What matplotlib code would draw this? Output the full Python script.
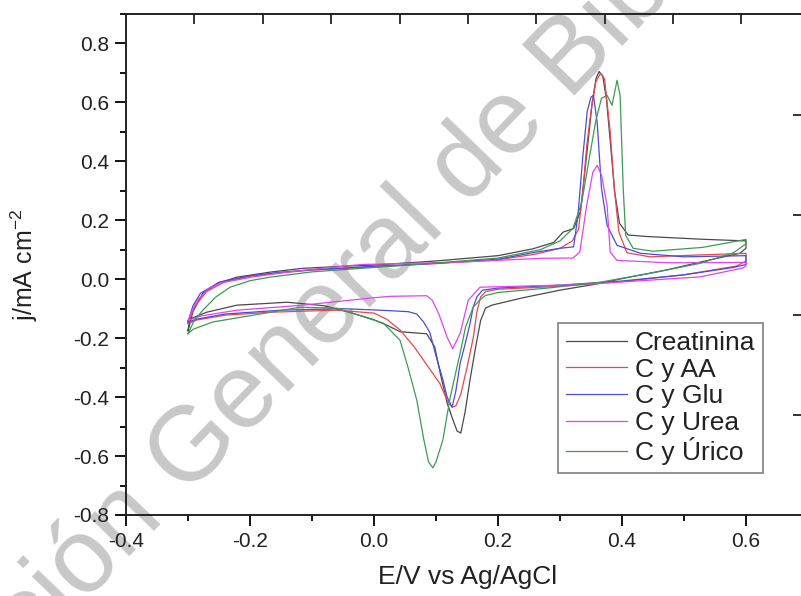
import matplotlib
matplotlib.use("Agg")
import matplotlib.pyplot as plt
from matplotlib.ticker import MultipleLocator, FormatStrFormatter, NullFormatter

plt.rcParams['font.family'] = ['Liberation Sans', 'DejaVu Sans']
plt.rcParams['mathtext.fontset'] = 'custom'
plt.rcParams['mathtext.rm'] = 'Liberation Sans'
plt.rcParams['mathtext.it'] = 'Liberation Sans'
plt.rcParams['axes.unicode_minus'] = False

# voltammogram loops: forward scan -0.3 -> 0.6 V, then back to -0.3 V
creat_E = [-0.300, -0.292, -0.276, -0.250, -0.221, -0.168, -0.115, -0.050, 0.000, 0.100, 0.200, 0.256, 0.290,
           0.305, 0.322, 0.333, 0.343, 0.352, 0.358, 0.363, 0.369, 0.375, 0.381, 0.388, 0.396, 0.410, 0.440,
           0.526, 0.600,
           0.600, 0.590, 0.530, 0.473, 0.400, 0.365, 0.300, 0.240, 0.190, 0.180, 0.172, 0.164, 0.155, 0.147,
           0.140, 0.134, 0.127, 0.118, 0.108, 0.098, 0.085, 0.065, 0.042, 0.020, -0.002, -0.040, -0.080,
           -0.140, -0.221, -0.270, -0.297, -0.300]
creat_j = [-0.175, -0.110, -0.047, -0.012, 0.007, 0.024, 0.037, 0.044, 0.048, 0.062, 0.080, 0.103, 0.125,
           0.160, 0.172, 0.230, 0.420, 0.600, 0.680, 0.705, 0.690, 0.610, 0.470, 0.300, 0.190, 0.150, 0.145,
           0.136, 0.130,
           0.105, 0.088, 0.060, 0.032, 0.002, -0.014, -0.037, -0.063, -0.088, -0.098, -0.140, -0.230, -0.340,
           -0.450, -0.522, -0.515, -0.475, -0.420, -0.330, -0.230, -0.185, -0.182, -0.178, -0.155, -0.136,
           -0.112, -0.090, -0.078, -0.088, -0.112, -0.135, -0.175]

aa_E = [-0.300, -0.290, -0.270, -0.240, -0.200, -0.150, -0.100, 0.000, 0.100, 0.200, 0.260, 0.300, 0.320,
        0.330, 0.337, 0.343, 0.350, 0.358, 0.365, 0.372, 0.381, 0.388, 0.395, 0.408, 0.445, 0.520, 0.600,
        0.600, 0.585, 0.500, 0.400, 0.300, 0.200, 0.180, 0.172, 0.166, 0.160, 0.150, 0.140, 0.132, 0.126,
        0.118, 0.106, 0.085, 0.065, 0.042, 0.020, 0.000, -0.060, -0.168, -0.240, -0.285, -0.300]
aa_j = [-0.150, -0.095, -0.042, -0.008, 0.010, 0.022, 0.031, 0.042, 0.053, 0.066, 0.085, 0.105, 0.130,
        0.170, 0.300, 0.450, 0.570, 0.670, 0.698, 0.680, 0.500, 0.300, 0.160, 0.090, 0.076, 0.082, 0.088,
        0.062, 0.045, 0.015, -0.008, -0.024, -0.034, -0.042, -0.060, -0.110, -0.200, -0.300, -0.390, -0.430,
        -0.434, -0.410, -0.353, -0.290, -0.230, -0.172, -0.135, -0.115, -0.105, -0.112, -0.122, -0.138, -0.150]

glu_E = [-0.300, -0.292, -0.280, -0.250, -0.200, -0.150, -0.100, 0.000, 0.100, 0.200, 0.256, 0.300, 0.322,
         0.329, 0.337, 0.344, 0.350, 0.354, 0.360, 0.367, 0.376, 0.392, 0.430, 0.500, 0.600,
         0.600, 0.580, 0.500, 0.400, 0.300, 0.200, 0.175, 0.166, 0.160, 0.155, 0.147, 0.139, 0.132, 0.126,
         0.118, 0.111, 0.100, 0.090, 0.080, 0.069, 0.055, 0.010, -0.050, -0.150, -0.240, -0.285, -0.300]
glu_j = [-0.145, -0.090, -0.048, -0.010, 0.012, 0.024, 0.032, 0.044, 0.054, 0.068, 0.090, 0.105, 0.110,
         0.217, 0.420, 0.570, 0.618, 0.624, 0.532, 0.308, 0.183, 0.115, 0.088, 0.076, 0.080,
         0.050, 0.040, 0.015, -0.006, -0.020, -0.030, -0.037, -0.060, -0.095, -0.150, -0.220, -0.285, -0.380,
         -0.434, -0.400, -0.340, -0.260, -0.180, -0.145, -0.118, -0.110, -0.105, -0.100, -0.105, -0.118,
         -0.135, -0.145]

urea_E = [-0.300, -0.297, -0.285, -0.265, -0.248, -0.195, -0.140, -0.080, -0.020, 0.140, 0.268, 0.321,
          0.332, 0.343, 0.353, 0.360, 0.367, 0.376, 0.381, 0.392, 0.473, 0.600,
          0.600, 0.595, 0.526, 0.365, 0.300, 0.171, 0.152, 0.139, 0.127, 0.118, 0.105, 0.094, 0.085, 0.026,
          -0.006, -0.115, -0.221, -0.280, -0.300]
urea_j = [-0.140, -0.125, -0.071, -0.030, -0.013, 0.008, 0.024, 0.038, 0.050, 0.058, 0.071, 0.072,
          0.092, 0.250, 0.363, 0.386, 0.353, 0.250, 0.092, 0.064, 0.056, 0.057,
          0.045, 0.038, 0.008, -0.014, -0.020, -0.027, -0.071, -0.183, -0.236, -0.197, -0.120, -0.071, -0.056,
          -0.058, -0.064, -0.088, -0.105, -0.125, -0.140]

urico_E = [-0.300, -0.290, -0.276, -0.255, -0.232, -0.200, -0.168, -0.100, 0.000, 0.100, 0.200, 0.268, 0.300,
           0.321, 0.335, 0.348, 0.358, 0.367, 0.376, 0.384, 0.392, 0.397, 0.402, 0.406, 0.418, 0.450, 0.530,
           0.600,
           0.600, 0.580, 0.526, 0.450, 0.365, 0.280, 0.200, 0.180, 0.171, 0.160, 0.148, 0.139, 0.123, 0.111,
           0.100, 0.095, 0.088, 0.080, 0.069, 0.055, 0.042, 0.015, -0.060, -0.119, -0.195, -0.260, -0.292,
           -0.300]
urico_j = [-0.185, -0.140, -0.105, -0.060, -0.027, -0.005, 0.007, 0.025, 0.040, 0.055, 0.072, 0.100, 0.130,
           0.173, 0.260, 0.420, 0.540, 0.614, 0.624, 0.590, 0.675, 0.624, 0.308, 0.149, 0.105, 0.095, 0.108,
           0.135,
           0.120, 0.090, 0.054, 0.022, -0.010, -0.030, -0.045, -0.055, -0.070, -0.095, -0.160, -0.250, -0.400,
           -0.546, -0.620, -0.640, -0.620, -0.540, -0.410, -0.300, -0.207, -0.149, -0.098, -0.095, -0.122,
           -0.145, -0.170, -0.185]

labels = ['Creatinina', 'C y AA', 'C y Glu', 'C y Urea', 'C y Úrico']
colors = ['#4a4a4a', '#e8474f', '#4b4bdc', '#df45ef', '#3e9a55']
curves = [(creat_E, creat_j), (aa_E, aa_j), (glu_E, glu_j), (urea_E, urea_j), (urico_E, urico_j)]

fig = plt.figure(figsize=(8.01, 5.96), dpi=100)
ax = fig.add_axes([126 / 801, 81 / 596, 677 / 801, 501 / 596])

for (E, j), lab, c in zip(curves, labels, colors):
    ax.plot(E, j, color=c, lw=0.9, label=lab)

ax.set_xlim(-0.4, 0.692)
ax.set_ylim(-0.8, 0.9)
ax.xaxis.set_major_locator(MultipleLocator(0.2))
ax.xaxis.set_minor_locator(MultipleLocator(0.1))
ax.yaxis.set_major_locator(MultipleLocator(0.2))
ax.yaxis.set_minor_locator(MultipleLocator(0.1))
ax.xaxis.set_major_formatter(FormatStrFormatter('%.1f'))
ax.yaxis.set_major_formatter(FormatStrFormatter('%.1f'))
ax.tick_params(which='major', direction='out', length=8, width=1.3, labelsize=15,
               labelcolor='#222222', pad=4)
ax.tick_params(which='minor', direction='out', length=4.5, width=1.3)
for sp in ax.spines.values():
    sp.set_linewidth(1.4)
    sp.set_color('#222222')

# extra tick set on top and right edges
ax2 = fig.add_axes(ax.get_position(), frameon=False)
ax2.set_xlim(0, 677 / 68.375)
ax2.set_ylim(0, 5.01)
ax2.set_xticks(range(1, 10))
ax2.set_yticks(range(1, 5))
ax2.xaxis.tick_top()
ax2.yaxis.tick_right()
ax2.xaxis.set_major_formatter(NullFormatter())
ax2.yaxis.set_major_formatter(NullFormatter())
ax2.tick_params(direction='in', length=7, width=1.3, color='#222222')

ax.set_xlabel('E/V vs Ag/AgCl', fontsize=19, color='#222222')
ax.set_ylabel('j/mA cm$^{-2}$', fontsize=18, color='#222222')
ax.xaxis.set_label_coords(0.505, -0.1)
ax.yaxis.set_label_coords(-0.127, 0.5)

leg = ax.legend(loc='upper left', bbox_to_anchor=(558 / 801, 1 - 323 / 596),
                bbox_transform=fig.transFigure, borderaxespad=0, fontsize=19,
                frameon=True, fancybox=False, framealpha=1, edgecolor='#808080',
                handlelength=2.3, handletextpad=0.3, labelspacing=0.1, borderpad=0.3)
leg.get_frame().set_linewidth(1.2)
for t in leg.get_texts():
    t.set_color('#222222')

fig.text(392 / 801, 1 - 285 / 596, 'Dirección General de Bibliotecas', fontsize=76,
         color='#c8c8c8', rotation=46, rotation_mode='anchor', ha='center', va='baseline',
         zorder=0.5)
ax.set_zorder(1)
ax.patch.set_alpha(0)
ax2.set_zorder(2)

fig.savefig('out.png', dpi=100)
